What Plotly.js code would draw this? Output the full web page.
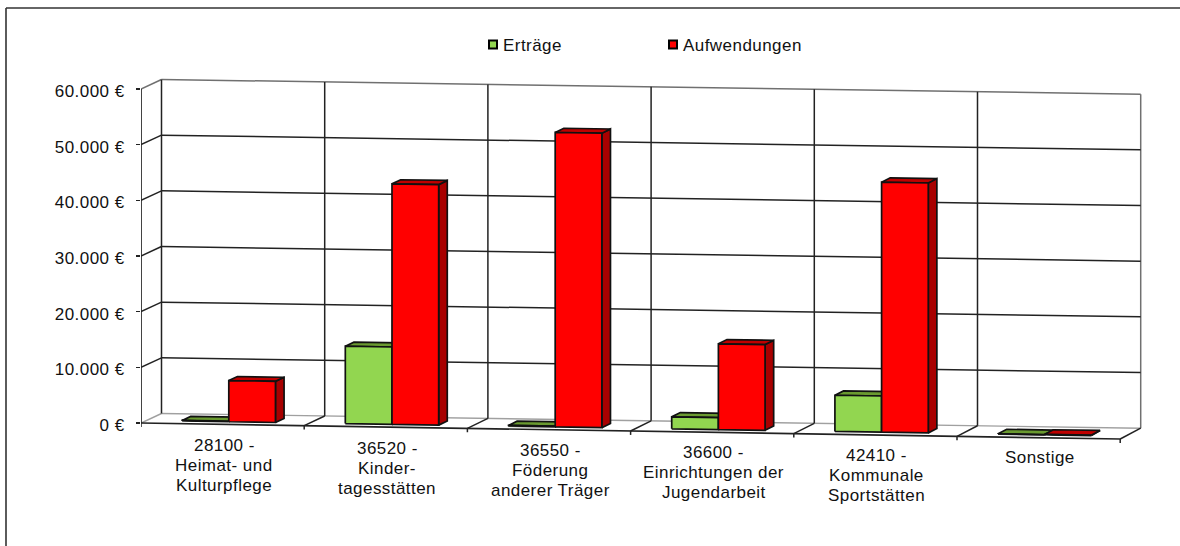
<!DOCTYPE html>
<html><head><meta charset="utf-8">
<script src="https://cdn.plot.ly/plotly-3.0.1.min.js"></script>
<style>
html,body{margin:0;padding:0;background:#fff}
#chart{width:1180px;height:546px}
.legend .legendsymbols{transform:translateX(10px)}
svg text{letter-spacing:.45px}
</style></head><body><div id="chart"></div>
<script>
// ---- data ----
const categories = [
  ["28100 -","Heimat- und","Kulturpflege"],
  ["36520 -","Kinder-","tagesstätten"],
  ["36550 -","Föderung","anderer Träger"],
  ["36600 -","Einrichtungen der","Jugendarbeit"],
  ["42410 -","Kommunale","Sportstätten"],
  ["Sonstige"]
];
const ertraege     = [100, 13900, 150, 2150, 6500, 50];
const aufwendungen = [7400, 43200, 52900, 15400, 44900, 100];
const yTickVals = [0,10000,20000,30000,40000,50000,60000];
const yTickText = ["0 €","10.000 €","20.000 €","30.000 €","40.000 €","50.000 €","60.000 €"];

// ---- pseudo-3D scene, expressed in axis units ----
const PX_X = 163.2, PX_Y = 55.67/10000;       // pixels per category, pixels per euro
const L = 141, R = 10, T = 70, B = 30;        // margins
const plotW = 1180-L-R, plotH = 546-T-B;
const Y0PX = 423;                             // pixel row of value 0 at the left front corner
const xRange = [0, plotW/PX_X];
const yRange = [-(T+plotH-Y0PX)/PX_Y, (Y0PX-T)/PX_Y];
const SLOPE_F = 2.67/PX_Y, SLOPE_B = 2.45/PX_Y;      // baseline drop per category, front and back
const DX = 20.5/PX_X, DY = 9.5/PX_Y;   // depth vector
const px = (c,d)=> c + d*DX;
const py = (c,v,d)=> v - c*(SLOPE_F+(SLOPE_B-SLOPE_F)*d) + d*DY;
const N = categories.length;
const BAR_D0 = 0.27, BAR_D1 = 0.69, BAR_W = 0.286, GREEN_OFF = 0.218;

function segs(list){ const x=[],y=[]; list.forEach(s=>{ s.forEach(p=>{x.push(px(p[0],p[2]));y.push(py(p[0],p[1],p[2]));}); x.push(null);y.push(null);}); return {x,y}; }
function lineTrace(list,color,width,dash){ const s=segs(list);
  return {type:'scatter',mode:'lines',x:s.x,y:s.y,line:{color,width,dash:dash||'solid'},hoverinfo:'skip',showlegend:false}; }

const gridBack=[], gridGray=[], floorDark=[], floorGray=[];
const topV = yTickVals[yTickVals.length-1];
yTickVals.forEach(v=>{
  if(v===0){ floorGray.push([[0,0,1],[N,0,1]]); floorGray.push([[0,0,0],[0,0,1]]); return; }
  if(v===topV){ gridGray.push([[0,v,1],[N,v,1]]); gridGray.push([[0,v,0],[0,v,1]]); return; }
  gridBack.push([[0,v,1],[N,v,1]]); gridBack.push([[0,v,0],[0,v,1]]);
});
for(let c=0;c<=N;c++){
  if(c===N){ gridGray.push([[c,0,1],[c,topV,1]]); floorDark.push([[c,0,0],[c,0,1]]); }
  else if(c===0){ gridBack.push([[c,0,1],[c,topV,1]]); }
  else { gridBack.push([[c,0,1],[c,topV,1]]); floorDark.push([[c,0,0],[c,0,1]]); }
}
const frontAxis=[[[0,0,0],[N,0,0]],[[0,0,0],[0,topV,0]]];
const tickDown=[]; for(let c=1;c<=N;c++) tickDown.push([[c,0,0],[c,-700,0]]);
tickDown.push([[0,0,0],[0,-700,0]]);

function faces(vals,off){
  const front=[],topF=[],side=[];
  vals.forEach((v,i)=>{
    const c0=i+off, c1=c0+BAR_W;
    const f=(cc,val,d)=>[cc,val,d];
    front.push([f(c0,0,BAR_D0),f(c1,0,BAR_D0),f(c1,v,BAR_D0),f(c0,v,BAR_D0),f(c0,0,BAR_D0)]);
    topF.push([f(c0,v,BAR_D0),f(c1,v,BAR_D0),f(c1,v,BAR_D1),f(c0,v,BAR_D1),f(c0,v,BAR_D0)]);
    side.push([f(c1,0,BAR_D0),f(c1,0,BAR_D1),f(c1,v,BAR_D1),f(c1,v,BAR_D0),f(c1,0,BAR_D0)]);
  });
  return {front,top:topF,side};
}
function poly(list,fill,name){ const s=segs(list);
  return {type:'scatter',mode:'lines',x:s.x,y:s.y,fill:'toself',fillcolor:fill,name,
    line:{color:'#111',width:1.7},hoverinfo:'skip',showlegend:false}; }

const g=faces(ertraege,GREEN_OFF), r=faces(aufwendungen,GREEN_OFF+BAR_W);
const legendTrace=(name,color)=>({type:'scatter',mode:'markers',x:[null],y:[null],name,
  marker:{symbol:'square',size:8,color,line:{color:'#000',width:2}},hoverinfo:'skip'});

const data=[
  lineTrace(floorGray,'#a0a0a0',1.4),
  lineTrace(gridGray,'#707070',1.5),
  lineTrace(gridBack,'#222222',1.5),
  lineTrace(floorDark,'#222222',1.5),
  lineTrace(frontAxis,'#222222',1.7),
  lineTrace(tickDown,'#222222',1.5),
  poly(g.side,'#5f8f2e','Erträge'), poly(g.top,'#6a9a30','Erträge'), poly(g.front,'#92D650','Erträge'),
  poly(r.side,'#A80000','Aufwendungen'), poly(r.top,'#C00000','Aufwendungen'), poly(r.front,'#FF0000','Aufwendungen'),
  legendTrace('Erträge','#92D650'), legendTrace('Aufwendungen','#FF0000')
];

const FS=17, LH_PX=20, FIRST_PX=22.7;
const annotations=[];
categories.forEach((lines,c)=>{
  lines.forEach((t,k)=>{
    annotations.push({x:c+0.509,y:-c*SLOPE_F*0.9-(FIRST_PX+k*LH_PX)/PX_Y,xref:'x',yref:'y',text:t,showarrow:false,
      xanchor:'center',yanchor:'middle',font:{family:'"Liberation Sans",Arial,sans-serif',size:FS,color:'#111'}});
  });
});

const layout={
  width:1180,height:546,margin:{l:L,r:R,t:T,b:B},
  paper_bgcolor:'#fff',plot_bgcolor:'rgba(0,0,0,0)',
  font:{family:'"Liberation Sans",Arial,sans-serif',size:FS,color:'#111'},
  xaxis:{range:xRange,visible:false,fixedrange:true},
  yaxis:{range:yRange,tickmode:'array',tickvals:yTickVals,ticktext:yTickText,ticks:'outside',ticklen:4,tickwidth:1.6,tickcolor:'#222',
    showgrid:false,zeroline:false,showline:false,ticklabelstandoff:8,ticklabelshift:2,tickfont:{size:FS,color:'#111'},fixedrange:true},
  showlegend:true,
  legend:{orientation:'h',x:(463-L)/plotW,xanchor:'left',y:1+(T-45)/plotH,yanchor:'middle',entrywidth:135,entrywidthmode:'pixels',
    font:{size:FS,color:'#111'},bgcolor:'rgba(0,0,0,0)',traceorder:'normal'},
  annotations,
  shapes:[
    {type:'line',xref:'paper',yref:'paper',x0:(6-L)/plotW,x1:(1180-L)/plotW,y0:1+(T-8)/plotH,y1:1+(T-8)/plotH,line:{color:'#333',width:1.6}},
    {type:'line',xref:'paper',yref:'paper',x0:(6-L)/plotW,x1:(6-L)/plotW,y0:1+(T-8)/plotH,y1:-(B)/plotH,line:{color:'#333',width:1.6}}
  ]
};
Plotly.newPlot('chart',data,layout,{displayModeBar:false,staticPlot:true});
</script></body></html>
